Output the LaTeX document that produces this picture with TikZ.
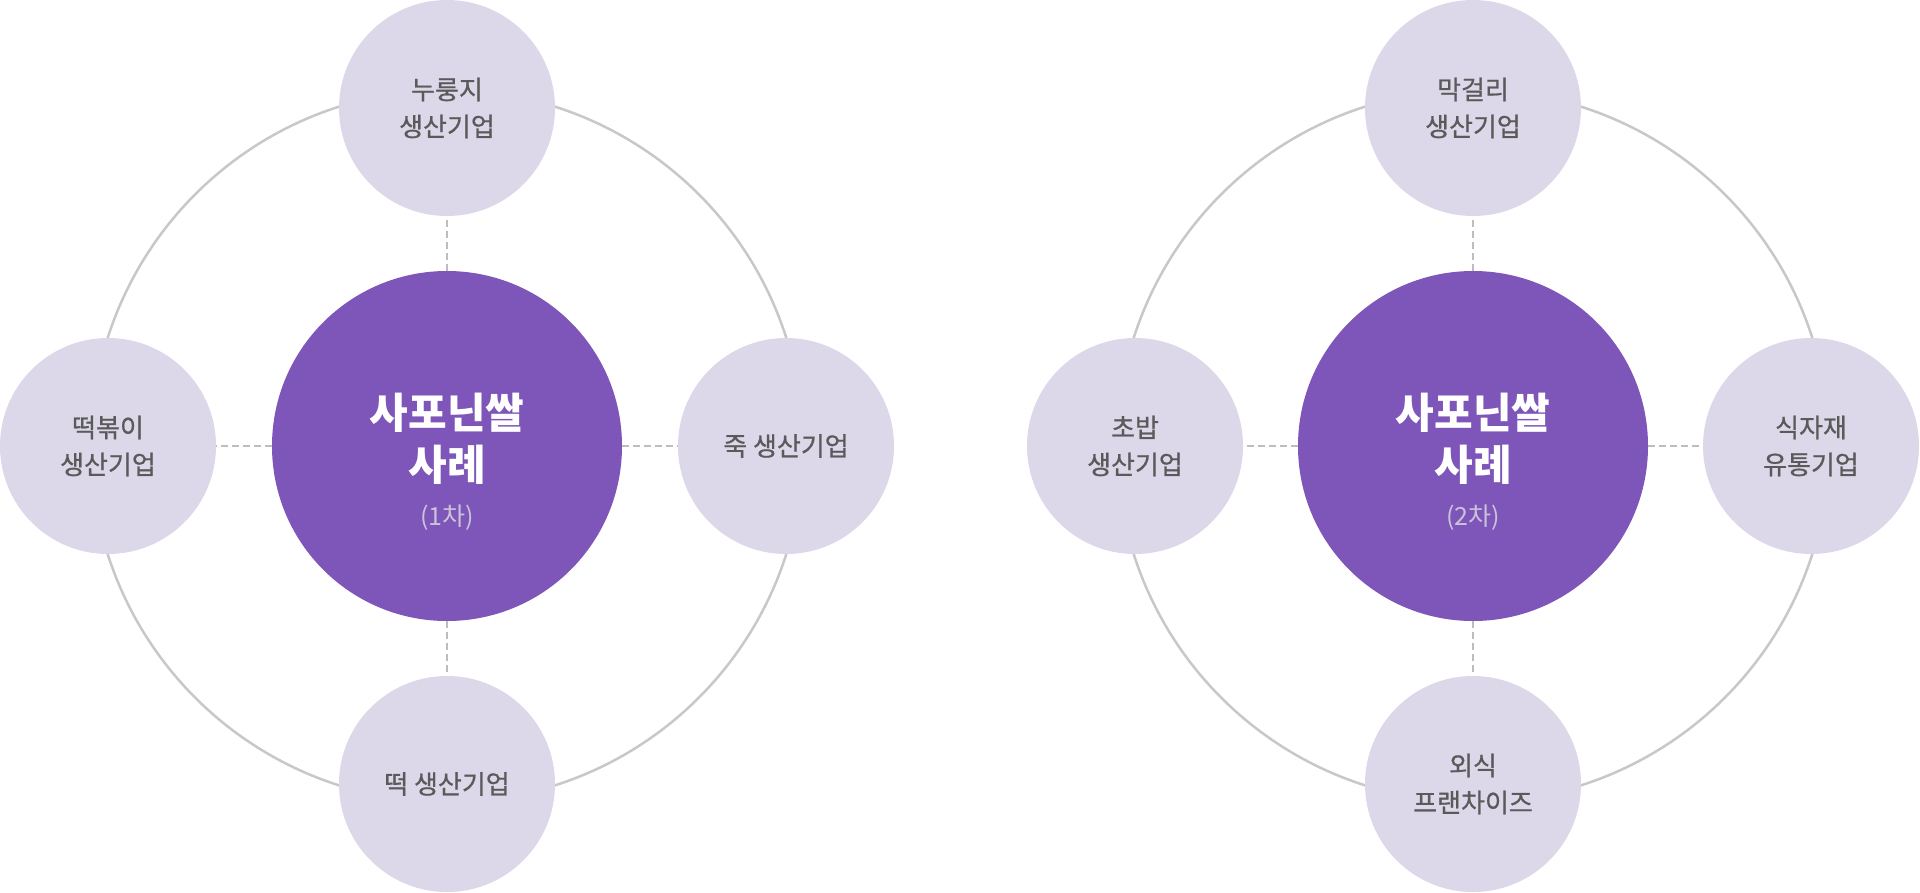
\documentclass[tikz,border=0pt]{standalone}
\usepackage{fontspec}
\newfontfamily\kr{Noto Sans CJK KR}
\newfontfamily\krm{Noto Sans CJK KR}[FakeBold=0.7]
\definecolor{mainpurple}{HTML}{7E55B9}
\definecolor{satfill}{HTML}{DCD8EA}
\definecolor{ringgray}{HTML}{C8C8C8}
\definecolor{dashgray}{HTML}{BDBDBD}
\definecolor{sattext}{HTML}{5A5A5A}
\definecolor{subtext}{HTML}{CBC3D9}
\tikzset{
  ring/.style={draw=ringgray, line width=2.5pt},
  hub/.style={circle, fill=mainpurple, minimum size=350pt, inner sep=0pt},
  sat/.style={circle, fill=satfill, minimum size=216pt, inner sep=0pt, align=center,
    text=sattext, font=\krm\fontsize{26}{37}\selectfont},
  hubtext/.style={align=center, text=white, inner sep=0pt, font=\kr\bfseries\fontsize{42}{52}\selectfont},
  hubsub/.style={text=subtext, inner sep=0pt, font=\kr\fontsize{25}{30}\selectfont},
  link/.style={draw=dashgray, line width=1.5pt, dash pattern=on 7pt off 4pt}
}
\begin{document}
\begin{tikzpicture}[x=1pt, y=-1pt]
\useasboundingbox (0,0) rectangle (1920,892);
\fill[white] (0,0) rectangle (1920,892);
% centres
\coordinate (cL) at (447,446);
\coordinate (cR) at (1473,446);
% rings
\draw[ring] (cL) circle[radius=356pt];
\draw[ring] (cR) circle[radius=356pt];
% left group
\node[hub] (hubL) at (cL) {};
\node[hubtext] (hubLt) at ([yshift=7pt]cL) {사포닌쌀\\사례};
\node[hubsub] (hubLs) at ([yshift=-72pt]cL) {(1차)};
\node[sat] (Lt) at (447,108) {누룽지\\생산기업};
\node[sat] (Lb) at (447,784) {떡 생산기업};
\node[sat] (Ll) at (108,446) {떡볶이\\생산기업};
\node[sat] (Lr) at (786,446) {죽 생산기업};
\draw[link] (hubL) -- (Lt);
\draw[link] (hubL) -- (Lb);
\draw[link] (hubL) -- (Ll);
\draw[link] (hubL) -- (Lr);
% right group
\node[hub] (hubR) at (cR) {};
\node[hubtext] (hubRt) at ([yshift=7pt]cR) {사포닌쌀\\사례};
\node[hubsub] (hubRs) at ([yshift=-72pt]cR) {(2차)};
\node[sat] (Rt) at (1473,108) {막걸리\\생산기업};
\node[sat] (Rb) at (1473,784) {외식\\프랜차이즈};
\node[sat] (Rl) at (1135,446) {초밥\\생산기업};
\node[sat] (Rr) at (1811,446) {식자재\\유통기업};
\draw[link] (hubR) -- (Rt);
\draw[link] (hubR) -- (Rb);
\draw[link] (hubR) -- (Rl);
\draw[link] (hubR) -- (Rr);
\end{tikzpicture}
\end{document}
